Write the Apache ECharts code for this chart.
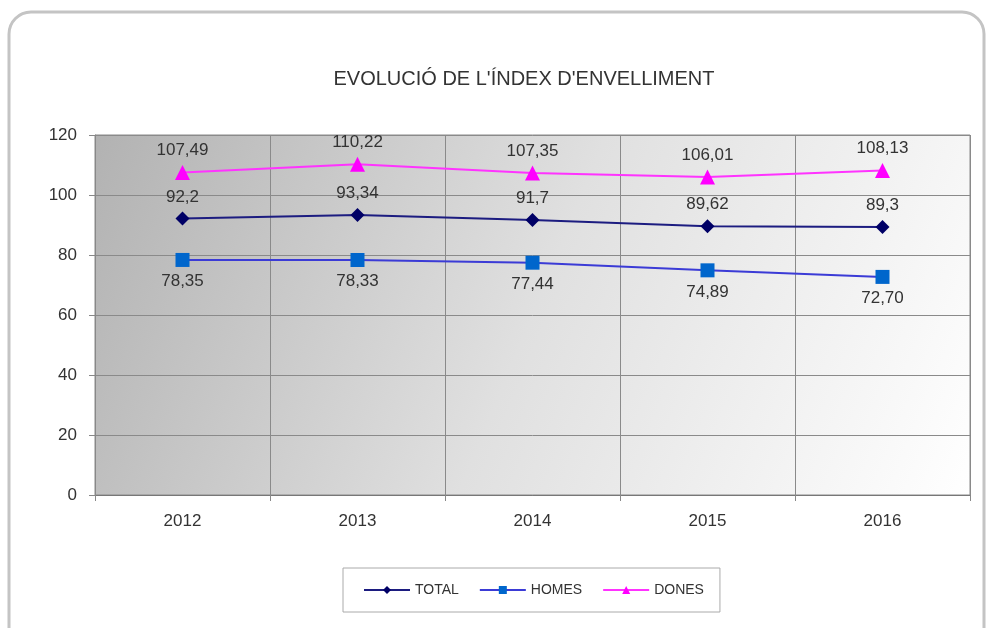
<!DOCTYPE html>
<html><head><meta charset="utf-8">
<script src="https://cdn.jsdelivr.net/npm/echarts@6/dist/echarts.min.js"></script>
<style>html,body{margin:0;padding:0;background:#fff}#c{width:990px;height:628px}</style>
</head><body><div id="c"></div>
<script>
const categories = ['2012','2013','2014','2015','2016'];
const totalValues = [92.2, 93.34, 91.7, 89.62, 89.3];
const homesValues = [78.35, 78.33, 77.44, 74.89, 72.70];
const donesValues = [107.49, 110.22, 107.35, 106.01, 108.13];
const totalLabels = ['92,2','93,34','91,7','89,62','89,3'];
const homesLabels = ['78,35','78,33','77,44','74,89','72,70'];
const donesLabels = ['107,49','110,22','107,35','106,01','108,13'];
const yTicks = [0,20,40,60,80,100,120];

const FONT = '"Liberation Sans Narrow","Liberation Sans",sans-serif';
const chart = echarts.init(document.getElementById('c'));
function mk(name, values, labels, color, lineColor, symbol, size, pos){
  return {
    name, type:'line', data: values, symbol, symbolSize: size,
    itemStyle:{color}, lineStyle:{color:lineColor, width:2},
    label:{show:true, position:pos, distance:6, color:'#333', fontSize:17, fontFamily:FONT,
      formatter: p => labels[p.dataIndex]},
    z: 5
  };
}
chart.setOption({
  animation:false,
  title:{text:'EVOLUCIÓ DE L\'ÍNDEX D\'ENVELLIMENT', left:519, top:64, textAlign:'center',
    textStyle:{fontSize:20, fontWeight:'normal', color:'#333', fontFamily:FONT}},
  graphic:[{type:'rect', shape:{x:9, y:12, width:975, height:640, r:22},
    style:{fill:'none', stroke:'#c4c4c4', lineWidth:3}, z:-10}],
  grid:{left:95, right:20, top:135, bottom:133, show:true, borderColor:'#8a8a8a', borderWidth:1,
    backgroundColor:{type:'linear', x:0, y:0, x2:1, y2:1, colorStops:[
      {offset:0, color:'#b2b2b2'},{offset:0.5, color:'#e0e0e0'},{offset:1, color:'#ffffff'}]}},
  legend:{top:568, left:343, itemWidth:46, itemHeight:10, itemGap:20, padding:[15,16,15,20],
    borderColor:'#aaa', borderWidth:1,
    textStyle:{fontSize:14, color:'#333', fontFamily:FONT},
    data:['TOTAL','HOMES','DONES']},
  xAxis:{type:'category', data:categories, boundaryGap:true,
    axisLine:{lineStyle:{color:'#777'}}, axisTick:{show:true, length:6, lineStyle:{color:'#888'}},
    splitLine:{show:true, lineStyle:{color:'#8a8a8a', width:1}},
    axisLabel:{fontSize:17, color:'#333', margin:18, fontFamily:FONT}},
  yAxis:{type:'value', min:0, max:120, interval:20,
    axisLine:{show:true, lineStyle:{color:'#888'}}, axisTick:{show:true, length:6, lineStyle:{color:'#888'}},
    splitLine:{lineStyle:{color:'#8a8a8a', width:1}},
    axisLabel:{fontSize:17, color:'#333', margin:18, fontFamily:FONT,
      formatter: v => yTicks.includes(v) ? String(v) : ''}},
  series:[
    mk('TOTAL', totalValues, totalLabels, '#000066', '#1c1c80', 'diamond', 14, 'top'),
    mk('HOMES', homesValues, homesLabels, '#0066cc', '#3b3bd6', 'rect', 14, 'bottom'),
    mk('DONES', donesValues, donesLabels, '#ff00ff', '#ff33ff', 'triangle', 15, 'top')
  ]
});
</script></body></html>
